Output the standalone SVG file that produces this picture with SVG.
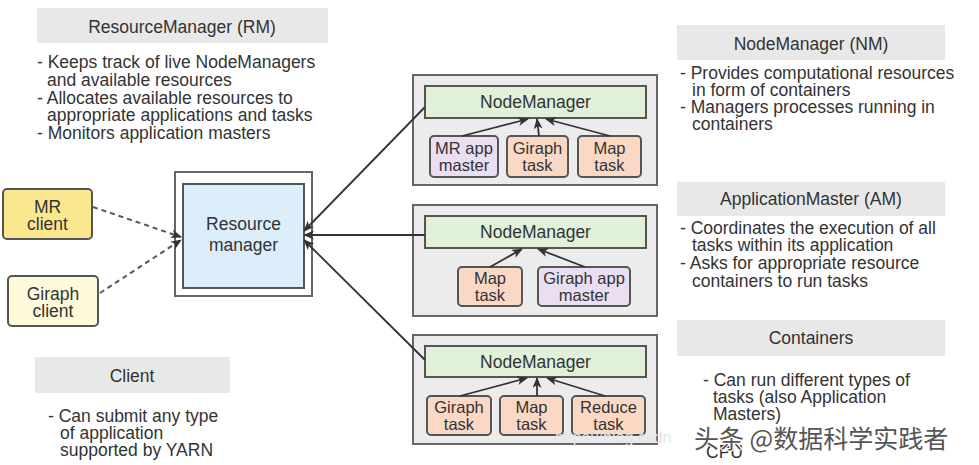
<svg xmlns="http://www.w3.org/2000/svg" width="979" height="465" viewBox="0 0 979 465">
<style>
text{font-family:"Liberation Sans",Arial,sans-serif;font-size:17.5px;fill:#333}
.c{text-anchor:middle}
.s{font-size:16.5px}
.hdr{fill:#e8e8e8;stroke:none}
.nm{fill:#ececec;stroke:#666;stroke-width:2}
.nmi{fill:#e0f0d9;stroke:#555;stroke-width:2}
.task{fill:#fad8c4;stroke:#555;stroke-width:2}
.am{fill:#e9def2;stroke:#555;stroke-width:2}
.ln{stroke:#333;stroke-width:1.8;fill:none}
.dash{stroke:#555;stroke-width:2;fill:none;stroke-dasharray:5 4}
</style>
<defs>
<marker id="ah" markerUnits="userSpaceOnUse" markerWidth="12" markerHeight="10" refX="10" refY="4.5" orient="auto">
<path d="M0,0 L11,4.5 L0,9 L3,4.5 z" fill="#333"/>
</marker>
</defs>
<rect width="979" height="465" fill="#fff"/>

<g id="rm-desc">
<rect class="hdr" x="37" y="8" width="291" height="35"/>
<text class="c" x="182" y="33">ResourceManager (RM)</text>
<text x="37" y="68">- Keeps track of live NodeManagers</text>
<text x="47" y="86">and available resources</text>
<text x="37" y="104">- Allocates available resources to</text>
<text x="47" y="121">appropriate applications and tasks</text>
<text x="37" y="139">- Monitors application masters</text>
</g>

<g id="client-desc">
<rect class="hdr" x="35" y="357" width="195" height="36"/>
<text class="c" x="132" y="382">Client</text>
<text x="48" y="422">- Can submit any type</text>
<text x="60" y="439">of application</text>
<text x="60" y="456">supported by YARN</text>
</g>

<g id="nm-desc">
<rect class="hdr" x="677" y="25" width="268" height="35"/>
<text class="c" x="811" y="50">NodeManager (NM)</text>
<text x="680" y="79">- Provides computational resources</text>
<text x="692" y="96">in form of containers</text>
<text x="680" y="113">- Managers processes running in</text>
<text x="692" y="130">containers</text>
</g>

<g id="am-desc">
<rect class="hdr" x="677" y="182" width="268" height="34"/>
<text class="c" x="811" y="205">ApplicationMaster (AM)</text>
<text x="680" y="234">- Coordinates the execution of all</text>
<text x="692" y="251">tasks within its application</text>
<text x="680" y="269">- Asks for appropriate resource</text>
<text x="692" y="287">containers to run tasks</text>
</g>

<g id="containers-desc">
<rect class="hdr" x="677" y="320" width="268" height="36"/>
<text class="c" x="811" y="344">Containers</text>
<text x="703" y="386">- Can run different types of</text>
<text x="713" y="403">tasks (also Application</text>
<text x="713" y="420">Masters)</text>
<text x="706" y="458">CPU</text>
</g>

<g id="mr-client">
<rect x="3" y="189" width="89" height="50" rx="4" fill="#fbe88e" stroke="#555" stroke-width="2"/>
<text class="c" x="47.5" y="213">MR</text>
<text class="c" x="47.5" y="230">client</text>
</g>

<g id="giraph-client">
<rect x="8" y="276" width="90" height="50" rx="4" fill="#fffadb" stroke="#555" stroke-width="2"/>
<text class="c" x="53" y="300">Giraph</text>
<text class="c" x="53" y="317">client</text>
</g>

<g id="resource-manager">
<rect x="175" y="172" width="137" height="124" fill="#fff" stroke="#666" stroke-width="2"/>
<rect x="183" y="184" width="121" height="104" fill="#dceefa" stroke="#555" stroke-width="2"/>
<text class="c" x="243.5" y="230">Resource</text>
<text class="c" x="243.5" y="251">manager</text>
</g>

<g id="node1">
<rect class="nm" x="413" y="75" width="244" height="110"/>
<rect class="nmi" x="425" y="86" width="221" height="32"/>
<text class="c" x="535.5" y="108">NodeManager</text>
<rect class="am" x="430" y="136" width="68" height="41" rx="4"/>
<text class="c s" x="464" y="154">MR app</text>
<text class="c s" x="464" y="171">master</text>
<rect class="task" x="507" y="136" width="61" height="41" rx="4"/>
<text class="c s" x="537.5" y="154">Giraph</text>
<text class="c s" x="537.5" y="171">task</text>
<rect class="task" x="578" y="136" width="63" height="41" rx="4"/>
<text class="c s" x="609.5" y="154">Map</text>
<text class="c s" x="609.5" y="171">task</text>
</g>

<g id="node2">
<rect class="nm" x="413" y="205" width="244" height="111"/>
<rect class="nmi" x="425" y="216" width="221" height="32"/>
<text class="c" x="535.5" y="238">NodeManager</text>
<rect class="task" x="458" y="267" width="64" height="39" rx="4"/>
<text class="c s" x="490" y="284">Map</text>
<text class="c s" x="490" y="301">task</text>
<rect class="am" x="538" y="267" width="92" height="39" rx="4"/>
<text class="c s" x="584" y="284">Giraph app</text>
<text class="c s" x="584" y="301">master</text>
</g>

<g id="node3">
<rect class="nm" x="413" y="335" width="244" height="109"/>
<rect class="nmi" x="425" y="346" width="221" height="31"/>
<text class="c" x="535.5" y="367.5">NodeManager</text>
<rect class="task" x="427" y="396" width="64" height="39" rx="4"/>
<text class="c s" x="459" y="413">Giraph</text>
<text class="c s" x="459" y="430">task</text>
<rect class="task" x="500" y="396" width="63" height="39" rx="4"/>
<text class="c s" x="531.5" y="413">Map</text>
<text class="c s" x="531.5" y="430">task</text>
<rect class="task" x="572" y="396" width="73" height="39" rx="4"/>
<text class="c s" x="608.5" y="413">Reduce</text>
<text class="c s" x="608.5" y="430">task</text>
</g>

<g id="connectors">
<line class="dash" x1="93" y1="207" x2="181" y2="237" marker-end="url(#ah)"/>
<line class="dash" x1="100" y1="293" x2="181" y2="240" marker-end="url(#ah)"/>
<line class="ln" x1="425" y1="107" x2="304" y2="231" marker-end="url(#ah)"/>
<line class="ln" x1="425" y1="235" x2="304" y2="235" marker-end="url(#ah)"/>
<line class="ln" x1="425" y1="360" x2="304" y2="240" marker-end="url(#ah)"/>
<line class="ln" x1="462" y1="136" x2="528" y2="119" marker-end="url(#ah)"/>
<line class="ln" x1="539" y1="136" x2="537" y2="119" marker-end="url(#ah)"/>
<line class="ln" x1="610" y1="136" x2="546" y2="119" marker-end="url(#ah)"/>
<line class="ln" x1="490" y1="267" x2="522" y2="249" marker-end="url(#ah)"/>
<line class="ln" x1="585" y1="267" x2="538" y2="249" marker-end="url(#ah)"/>
<line class="ln" x1="460" y1="396" x2="527" y2="378" marker-end="url(#ah)"/>
<line class="ln" x1="537" y1="396" x2="537" y2="378" marker-end="url(#ah)"/>
<line class="ln" x1="605" y1="396" x2="547" y2="378" marker-end="url(#ah)"/>
</g>

<g id="watermark">
<text x="555" y="443" style="font-size:16px;fill:#e4e4e4">https://blog.csdn</text>
<text x="694" y="448" style="font-family:'Noto Sans CJK SC','Liberation Sans',sans-serif;font-size:25px;fill:#555;stroke:#fff;stroke-width:2;paint-order:stroke">头条 @数据科学实践者</text>
</g>
</svg>
